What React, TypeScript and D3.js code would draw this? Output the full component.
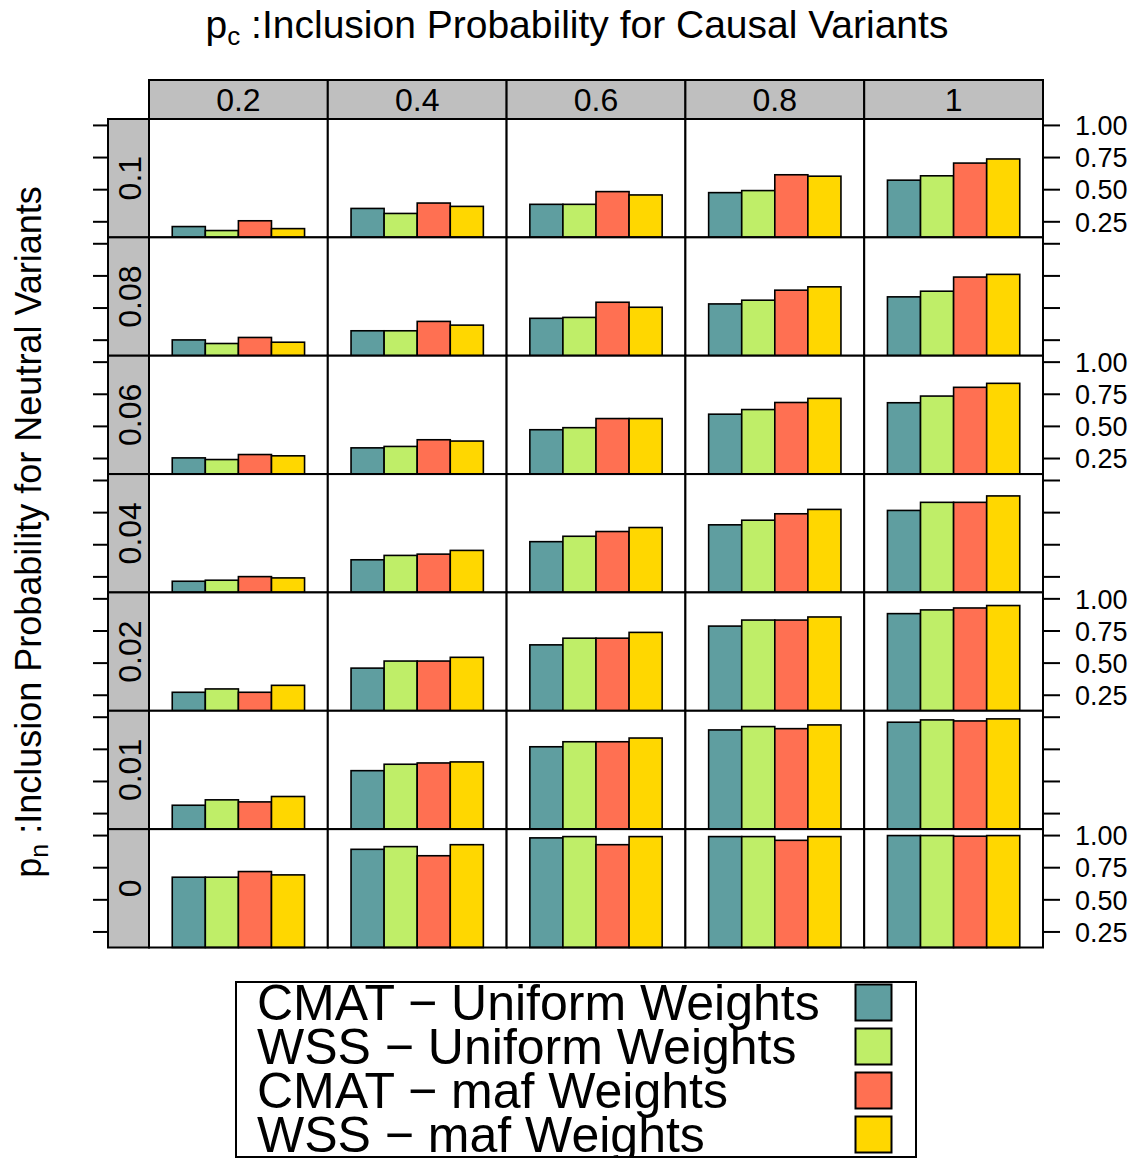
import React, { useEffect, useRef } from 'react';
import * as d3 from 'd3';

// facet levels
const pcLevels = ['0.2', '0.4', '0.6', '0.8', '1'];
const pnLevels = ['0.1', '0.08', '0.06', '0.04', '0.02', '0.01', '0'];

const seriesNames = [
  'CMAT \u2212 Uniform Weights',
  'WSS \u2212 Uniform Weights',
  'CMAT \u2212 maf Weights',
  'WSS \u2212 maf Weights',
];
const seriesColors = ['#5F9EA0', '#BFEE68', '#FF7052', '#FFD700'];

// rows = pn (0.1 ... 0), columns = pc (0.2 ... 1)
const cmatUniform = [
  [0.213, 0.354, 0.386, 0.477, 0.574],
  [0.252, 0.323, 0.42, 0.532, 0.587],
  [0.255, 0.333, 0.474, 0.595, 0.684],
  [0.216, 0.383, 0.524, 0.655, 0.767],
  [0.273, 0.461, 0.642, 0.788, 0.885],
  [0.315, 0.584, 0.77, 0.901, 0.961],
  [0.676, 0.893, 0.982, 0.992, 1.0],
];
const wssUniform = [
  [0.182, 0.315, 0.386, 0.493, 0.608],
  [0.224, 0.323, 0.427, 0.561, 0.631],
  [0.242, 0.344, 0.49, 0.631, 0.736],
  [0.224, 0.417, 0.566, 0.691, 0.83],
  [0.299, 0.516, 0.694, 0.835, 0.914],
  [0.357, 0.634, 0.809, 0.927, 0.979],
  [0.676, 0.914, 0.992, 0.992, 1.0],
];
const cmatMaf = [
  [0.258, 0.396, 0.485, 0.616, 0.707],
  [0.271, 0.396, 0.545, 0.639, 0.741],
  [0.281, 0.396, 0.561, 0.686, 0.804],
  [0.252, 0.427, 0.603, 0.741, 0.83],
  [0.273, 0.516, 0.694, 0.835, 0.929],
  [0.341, 0.644, 0.809, 0.911, 0.971],
  [0.72, 0.843, 0.929, 0.963, 0.995],
];
const wssMaf = [
  [0.197, 0.37, 0.459, 0.605, 0.739],
  [0.234, 0.367, 0.506, 0.665, 0.762],
  [0.271, 0.386, 0.561, 0.718, 0.835],
  [0.242, 0.456, 0.634, 0.775, 0.88],
  [0.327, 0.545, 0.739, 0.859, 0.948],
  [0.383, 0.652, 0.838, 0.94, 0.987],
  [0.694, 0.929, 0.992, 0.992, 1.0],
];

const yTicks = [0.25, 0.5, 0.75, 1.0];

const FONT = '"Liberation Sans", Arial, Helvetica, sans-serif';

const App = () => {
  const svgRef = useRef<SVGSVGElement>(null);

  useEffect(() => {
    const width = 1137;
    const height = 1158;
    const svg = d3.select(svgRef.current).attr('width', width).attr('height', height);
    svg.selectAll('*').remove();

    const series = [cmatUniform, wssUniform, cmatMaf, wssMaf];

    const left = 149;
    const right = 1043;
    const top = 119;
    const bottom = 947.5;
    const stripTop = 80;
    const stripLeft = 108;

    const xCol = d3.scaleBand<string>().domain(pcLevels).range([left, right]);
    const yRow = d3.scaleBand<string>().domain(pnLevels).range([top, bottom]);
    const colW = xCol.bandwidth();
    const rowH = yRow.bandwidth();

    // title
    const title = svg.append('text')
      .attr('x', 577)
      .attr('y', 38)
      .attr('text-anchor', 'middle')
      .attr('font-family', FONT)
      .attr('font-size', 39);
    title.append('tspan').text('p');
    title.append('tspan').attr('font-size', 26).attr('dy', 7).text('c');
    title.append('tspan').attr('dy', -7).text(' :Inclusion Probability for Causal Variants');

    // y title
    const ytitle = svg.append('text')
      .attr('transform', 'translate(41,532) rotate(-90)')
      .attr('text-anchor', 'middle')
      .attr('font-family', FONT)
      .attr('font-size', 36);
    ytitle.append('tspan').text('p');
    ytitle.append('tspan').attr('font-size', 25).attr('dy', 7).text('n');
    ytitle.append('tspan').attr('dy', -7).text(' :Inclusion Probability for Neutral Variants');

    // top strips
    pcLevels.forEach(pc => {
      svg.append('rect')
        .attr('x', xCol(pc))
        .attr('y', stripTop)
        .attr('width', colW)
        .attr('height', top - stripTop)
        .attr('fill', '#BFBFBF')
        .attr('stroke', '#000')
        .attr('stroke-width', 2);
      svg.append('text')
        .attr('x', (xCol(pc) as number) + colW / 2)
        .attr('y', 111)
        .attr('text-anchor', 'middle')
        .attr('font-family', FONT)
        .attr('font-size', 32)
        .text(pc);
    });

    pnLevels.forEach((pn, ri) => {
      const y0 = yRow(pn) as number;
      const y = d3.scaleLinear().domain([0.129, 1.05]).range([y0 + rowH, y0]);

      // left strip
      svg.append('rect')
        .attr('x', stripLeft)
        .attr('y', y0)
        .attr('width', left - stripLeft)
        .attr('height', rowH)
        .attr('fill', '#BFBFBF')
        .attr('stroke', '#000')
        .attr('stroke-width', 2);
      svg.append('text')
        .attr('transform', `translate(141,${y0 + rowH / 2}) rotate(-90)`)
        .attr('text-anchor', 'middle')
        .attr('font-family', FONT)
        .attr('font-size', 32)
        .text(pn);

      // ticks left and right
      yTicks.forEach(t => {
        svg.append('line')
          .attr('x1', stripLeft - 15).attr('x2', stripLeft)
          .attr('y1', y(t)).attr('y2', y(t))
          .attr('stroke', '#000').attr('stroke-width', 2);
        svg.append('line')
          .attr('x1', right).attr('x2', right + 17)
          .attr('y1', y(t)).attr('y2', y(t))
          .attr('stroke', '#000').attr('stroke-width', 2);
        if (ri % 2 === 0) {
          svg.append('text')
            .attr('x', 1075)
            .attr('y', y(t))
            .attr('dy', '0.36em')
            .attr('font-family', FONT)
            .attr('font-size', 27)
            .text(d3.format('.2f')(t));
        }
      });

      pcLevels.forEach((pc, ci) => {
        const x0 = xCol(pc) as number;
        const xb = d3.scaleBand<number>()
          .domain(d3.range(series.length))
          .range([x0 + colW * 0.13, x0 + colW * 0.87]);

        svg.append('rect')
          .attr('x', x0)
          .attr('y', y0)
          .attr('width', colW)
          .attr('height', rowH)
          .attr('fill', '#fff');

        svg.selectAll(null)
          .data(series.map((s, si) => ({ si, v: s[ri][ci] })))
          .join('rect')
          .attr('x', d => xb(d.si) as number)
          .attr('y', d => y(d.v))
          .attr('width', xb.bandwidth())
          .attr('height', d => y0 + rowH - y(d.v))
          .attr('fill', d => seriesColors[d.si])
          .attr('stroke', '#000')
          .attr('stroke-width', 1.6);

        svg.append('rect')
          .attr('x', x0)
          .attr('y', y0)
          .attr('width', colW)
          .attr('height', rowH)
          .attr('fill', 'none')
          .attr('stroke', '#000')
          .attr('stroke-width', 2);
      });
    });

    // legend
    svg.append('rect')
      .attr('x', 236)
      .attr('y', 982)
      .attr('width', 680)
      .attr('height', 175)
      .attr('fill', '#fff')
      .attr('stroke', '#000')
      .attr('stroke-width', 2);

    const ly = d3.scaleBand<number>().domain(d3.range(seriesNames.length)).range([981, 1157]);
    seriesNames.forEach((name, i) => {
      const cy = (ly(i) as number) + ly.bandwidth() / 2;
      svg.append('text')
        .attr('x', 257)
        .attr('y', cy + 17)
        .attr('font-family', FONT)
        .attr('font-size', 50)
        .text(name);
      svg.append('rect')
        .attr('x', 855.5)
        .attr('y', cy - 18.5)
        .attr('width', 36)
        .attr('height', 36)
        .attr('fill', seriesColors[i])
        .attr('stroke', '#000')
        .attr('stroke-width', 2);
    });
  }, []);

  return (
    <svg ref={svgRef} style={{ position: 'absolute', left: 0, top: 0, background: '#fff' }} />
  );
};

export default App;
